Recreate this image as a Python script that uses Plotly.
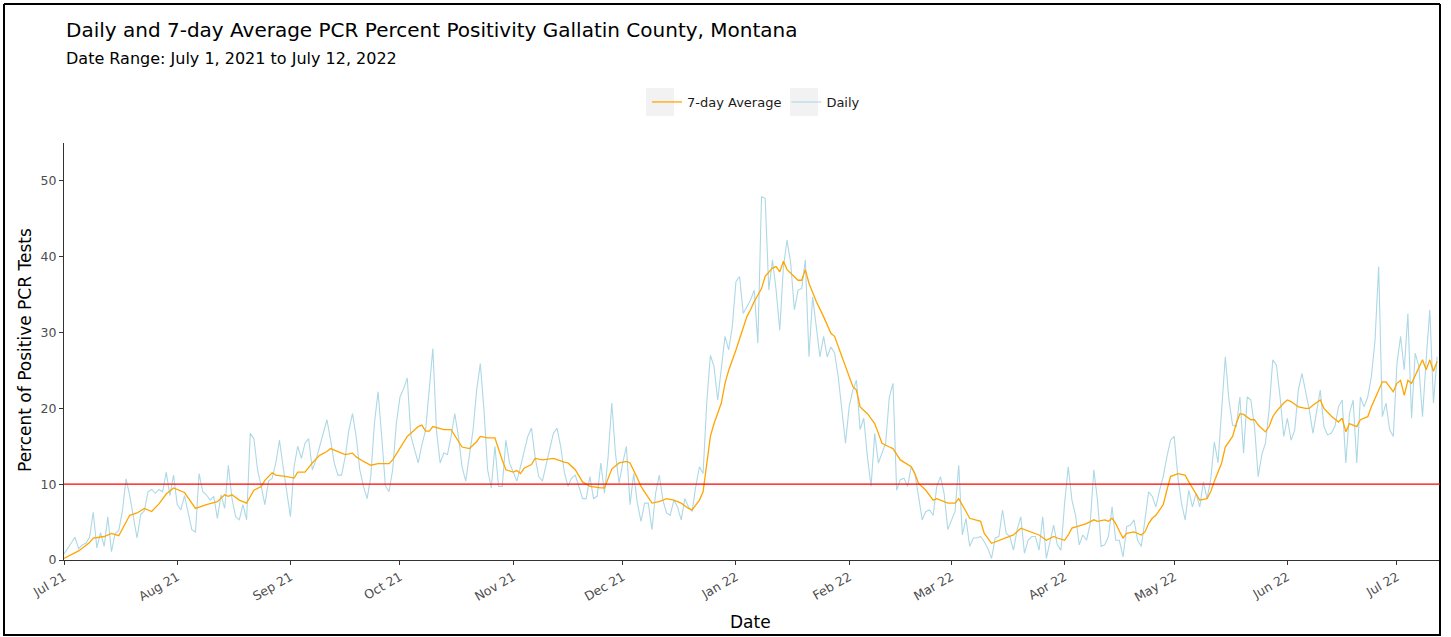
import pandas as pd
import plotly.graph_objects as go

start_date = "2021-07-01"

daily_pct = [
    0.8, 1.5, 2.3, 3.0, 1.5, 2.0, 2.2, 3.0, 6.3, 1.6,
    3.6, 1.8, 5.7, 1.1, 3.5, 3.9, 6.5, 10.7, 8.5, 5.5,
    2.9, 6.0, 6.5, 9.0, 9.3, 8.8, 9.3, 9.0, 11.6, 8.5,
    11.2, 7.3, 6.6, 8.5, 6.2, 4.0, 3.7, 11.4, 9.0, 8.6,
    7.9, 8.4, 5.5, 8.6, 6.8, 12.5, 8.1, 5.7, 5.3, 7.3,
    5.3, 16.7, 16.0, 11.9, 9.7, 7.3, 10.4, 10.8, 12.8, 15.8,
    12.3, 9.2, 5.7, 12.3, 15.0, 13.4, 15.4, 16.0, 11.9, 13.2,
    15.0, 16.7, 18.5, 15.8, 12.8, 11.2, 11.2, 13.6, 17.1, 19.3,
    16.3, 11.9, 9.7, 8.1, 11.0, 18.0, 22.2, 16.3, 9.8, 9.0,
    11.9, 18.0, 21.5, 22.6, 24.0, 16.3, 14.5, 12.8, 15.2, 17.1,
    22.4, 27.9, 17.1, 12.8, 14.1, 13.9, 16.3, 19.3, 16.3, 12.3,
    10.4, 14.1, 17.1, 22.4, 25.9, 19.8, 11.9, 9.5, 15.0, 9.7,
    9.7, 15.8, 12.8, 11.6, 10.4, 12.3, 14.5, 16.3, 17.4, 13.6,
    11.0, 10.4, 12.5, 14.5, 16.7, 17.4, 15.0, 11.6, 9.7, 10.8,
    11.2, 9.7, 8.1, 8.1, 11.0, 8.1, 8.4, 12.8, 8.8, 13.6,
    20.7, 14.1, 10.1, 12.8, 15.0, 7.3, 11.4, 7.5, 5.1, 7.5,
    7.5, 4.0, 8.8, 11.2, 7.9, 6.2, 5.9, 7.9, 7.0, 5.3,
    8.1, 7.0, 6.4, 9.7, 12.3, 11.4, 20.7, 27.0, 25.5, 21.1,
    25.1, 29.5, 27.7, 30.8, 36.7, 37.4, 32.5, 33.4, 34.3, 35.6,
    28.6, 47.9, 47.7, 35.6, 39.6, 35.6, 30.3, 38.7, 42.2, 39.1,
    33.0, 35.6, 35.8, 39.6, 26.8, 34.7, 30.8, 26.8, 29.5, 26.8,
    28.1, 27.3, 24.2, 19.8, 15.4, 20.2, 22.4, 23.7, 17.2, 18.7,
    13.6, 9.7, 16.7, 12.8, 14.1, 15.4, 21.5, 23.3, 9.2, 10.6,
    10.8, 9.7, 12.3, 11.4, 8.4, 5.3, 6.4, 6.6, 5.9, 9.7,
    11.0, 8.8, 4.0, 5.3, 6.4, 12.5, 3.3, 5.5, 1.8, 2.9,
    2.9, 3.1, 2.4, 1.5, 0.2, 2.9, 3.1, 6.6, 3.5, 3.1,
    1.3, 4.0, 5.7, 0.9, 2.6, 3.1, 3.1, 1.3, 5.7, 0.2,
    2.6, 4.6, 2.0, 1.3, 7.5, 12.3, 7.9, 5.9, 2.0, 3.3,
    2.6, 4.8, 11.9, 7.9, 1.8, 2.0, 3.1, 7.0, 2.6, 2.6,
    0.4, 4.4, 4.6, 5.3, 2.6, 1.8, 5.3, 9.0, 8.4, 7.0,
    9.2, 11.0, 13.6, 15.8, 16.3, 11.0, 7.5, 5.3, 9.2, 7.0,
    8.8, 7.0, 10.3, 8.1, 10.6, 15.6, 12.8, 20.2, 26.8, 21.1,
    17.8, 17.6, 21.5, 14.1, 21.5, 21.1, 17.6, 11.0, 13.9, 15.4,
    19.8, 26.4, 25.7, 21.5, 16.3, 18.7, 15.8, 17.1, 22.4, 24.6,
    22.4, 19.8, 16.7, 19.8, 22.4, 17.6, 16.5, 16.7, 17.6, 20.2,
    21.1, 12.8, 19.3, 21.1, 12.8, 21.5, 20.2, 21.5, 24.2, 29.0,
    38.7, 18.9, 20.7, 17.2, 16.3, 25.9, 29.5, 25.1, 32.5, 18.7,
    27.3, 25.5, 18.9, 26.4, 33.0, 20.7, 26.8,
]

avg_day = [
    0, 4, 7, 8, 11, 13, 15, 18, 20, 22, 24, 26, 28, 30, 33,
    36, 39, 42, 44, 45, 46, 48, 50, 52, 54, 55, 57, 58, 61, 63, 64, 66, 68,
    70, 72, 73, 75, 77, 79, 80, 82, 84, 86, 89, 90, 92, 94, 97, 98, 99, 100, 101, 103,
    104, 106, 108, 109, 111, 113, 114, 116, 118, 119, 120, 121, 123, 124, 125, 126, 128, 129, 131, 134, 135, 137,
    138, 140, 142, 144, 147, 148, 150, 152, 154, 155, 157, 158, 161, 163, 165, 167, 169, 171,
    172, 174, 175, 176, 177, 178, 180, 181, 182, 184, 185, 187, 188, 189, 191, 192, 194, 195, 196, 197, 198, 200, 201, 202, 203, 204, 205, 206,
    208, 210, 211, 213, 215, 216, 217, 218, 220, 222, 223, 224, 226, 227, 229, 230, 232, 233, 234, 236, 238, 239, 241,
    242, 244, 245, 247, 248, 251, 252, 254, 256, 258, 260, 262, 263, 266, 267, 269, 271, 272, 274, 275,
    276, 278, 280, 282, 283, 285, 286, 287, 288, 289, 290, 291, 293, 295, 296, 297, 298, 299, 301, 302, 303, 305, 307, 308, 309,
    310, 311, 313, 314, 315, 317, 318, 320, 321, 322, 323, 325, 326, 327, 329, 330, 331, 332, 334, 335, 336, 338, 340, 341, 342, 344,
    345, 347, 349, 350, 351, 352, 354, 355, 357, 358, 360, 361, 362, 364, 365, 366, 367, 368, 369, 371, 372, 373, 374, 375, 376,
]

avg_pct = [
    0.2, 1.2, 2.3, 2.9, 3.1, 3.5, 3.2, 5.9, 6.2, 6.8, 6.4, 7.4, 8.7, 9.5, 8.9,
    6.8, 7.3, 7.7, 8.6, 8.4, 8.6, 7.9, 7.5, 9.2, 9.7, 10.5, 11.5, 11.2, 11.0, 10.8, 11.6, 11.6, 12.8,
    13.8, 14.3, 14.7, 14.3, 13.9, 14.1, 13.6, 13.0, 12.5, 12.7, 12.7, 13.2, 14.7, 16.3, 17.6, 17.8, 17.0, 17.0, 17.6, 17.4,
    17.2, 17.2, 15.6, 14.9, 14.7, 15.6, 16.3, 16.1, 16.1, 14.5, 13.2, 11.9, 11.6, 11.8, 11.4, 12.1, 12.6, 13.4, 13.2, 13.4, 13.2, 12.9,
    12.8, 11.9, 10.3, 9.7, 9.5, 9.5, 12.0, 12.8, 13.0, 12.8, 10.8, 9.7, 7.5, 7.7, 8.1, 7.9, 7.5, 6.8,
    6.6, 7.9, 9.0, 12.8, 16.3, 18.0, 20.7, 23.3, 25.0, 27.7, 29.2, 32.1, 33.0, 34.1, 35.8, 37.4, 38.5, 38.7, 38.0, 39.4, 38.3, 37.4, 36.9, 36.9, 38.3, 36.5, 35.2, 34.1,
    32.1, 29.9, 29.5, 26.8, 24.2, 22.9, 22.4, 20.2, 19.3, 18.0, 16.7, 15.4, 14.9, 14.7, 13.2, 12.9, 12.3, 11.4, 10.1, 9.2, 7.9, 8.1, 7.7,
    7.5, 7.5, 8.1, 6.4, 5.5, 5.1, 3.5, 2.2, 2.6, 2.9, 3.3, 4.2, 4.0, 3.5, 3.3, 2.6, 3.1, 2.9, 2.6, 3.3,
    4.2, 4.5, 4.8, 5.3, 5.1, 5.3, 5.1, 5.5, 4.8, 3.8, 2.9, 3.5, 3.7, 3.3, 3.7, 4.8, 5.5, 5.9, 7.3, 9.2, 11.0, 11.4, 11.2, 10.3, 9.5,
    8.8, 7.9, 8.1, 9.0, 10.4, 12.8, 14.9, 16.3, 18.0, 19.3, 19.2, 18.5, 18.5, 17.8, 16.9, 17.6, 18.9, 19.6, 20.7, 21.1, 20.9, 20.2, 20.0, 20.0, 20.4, 21.1,
    20.0, 19.0, 18.2, 18.7, 16.9, 18.0, 17.6, 18.5, 18.9, 20.2, 22.4, 23.5, 23.5, 22.2, 23.3, 23.7, 21.7, 23.7, 23.3, 25.5, 26.4, 25.1, 26.4, 24.9, 26.2,
]

threshold = 10
y_ticks = [0, 10, 20, 30, 40, 50]
x_tick_dates = pd.date_range("2021-07-01", "2022-07-01", freq="MS")

start = pd.Timestamp(start_date)
daily_dates = pd.date_range(start, periods=len(daily_pct), freq="D")
avg_dates = start + pd.to_timedelta(avg_day, unit="D")

font_family = "DejaVu Sans, Liberation Sans, sans-serif"

fig = go.Figure()
fig.add_trace(go.Scatter(
    x=daily_dates, y=daily_pct, mode="lines", name="Daily",
    line=dict(color="#ADD8E6", width=1.1),
))
fig.add_trace(go.Scatter(
    x=avg_dates, y=avg_pct, mode="lines", name="7-day Average",
    line=dict(color="#FFA500", width=1.3),
))

# plot area: x 64..1440 px, y 143..560 px (width 1376, height 417)
PW, PH = 1376.0, 417.0
def px(x):
    return (x - 64) / PW
def py(y):
    return (560 - y) / PH

fig.update_layout(
    width=1451, height=637,
    margin=dict(l=64, r=11, t=143, b=77),
    paper_bgcolor="white", plot_bgcolor="white",
    font=dict(family=font_family, color="#4d4d4d", size=12),
    showlegend=True,
    legend=dict(
        orientation="h", x=px(756), xanchor="center", y=py(102), yanchor="middle",
        font=dict(size=13, color="#1a1a1a", family=font_family),
        traceorder="reversed", itemwidth=30, bgcolor="rgba(0,0,0,0)",
    ),
    xaxis=dict(
        range=["2021-07-01", "2022-07-12 19:00"],
        tickvals=x_tick_dates, tickformat="%b %y", tickangle=-30,
        showgrid=False, zeroline=False,
        showline=True, linecolor="#333333", linewidth=1,
        ticks="outside", ticklen=4, tickcolor="#333333",
        tickfont=dict(size=12.5, color="#4d4d4d"),
    ),
    yaxis=dict(
        range=[0, 55], tickvals=y_ticks,
        showgrid=False, zeroline=False,
        showline=True, linecolor="#333333", linewidth=1,
        ticks="outside", ticklen=4, tickcolor="#333333",
        tickfont=dict(size=12.5, color="#4d4d4d"),
    ),
    annotations=[
        dict(text="Daily and 7-day Average PCR Percent Positivity Gallatin County, Montana",
             xref="paper", yref="paper", x=0, y=py(30), xanchor="left", yanchor="middle",
             showarrow=False, font=dict(size=20, color="black", family=font_family)),
        dict(text="Date Range: July 1, 2021 to July 12, 2022",
             xref="paper", yref="paper", x=0, y=py(59), xanchor="left", yanchor="middle",
             showarrow=False, font=dict(size=16, color="black", family=font_family)),
        dict(text="Date", xref="paper", yref="paper", x=px(750), y=py(622),
             xanchor="center", yanchor="middle", showarrow=False,
             font=dict(size=17, color="black", family=font_family)),
        dict(text="Percent of Positive PCR Tests", xref="paper", yref="paper",
             x=px(25), y=py(350), xanchor="center", yanchor="middle", textangle=-90,
             showarrow=False, font=dict(size=17, color="black", family=font_family)),
    ],
)

# legend key backgrounds
fig.add_shape(type="rect", xref="paper", yref="paper",
              x0=px(646), x1=px(674), y0=py(116), y1=py(88),
              line=dict(width=0), fillcolor="#F2F2F2", layer="below")
fig.add_shape(type="rect", xref="paper", yref="paper",
              x0=px(790), x1=px(818), y0=py(116), y1=py(88),
              line=dict(width=0), fillcolor="#F2F2F2", layer="below")
# outer frame
for (x0, y0, x1, y1) in [(4, 4, 1440, 4), (4, 4, 4, 636), (1440, 4, 1440, 636), (4, 635, 1440, 635)]:
    fig.add_shape(type="line", xref="paper", yref="paper",
                  x0=px(x0), x1=px(x1), y0=py(y0), y1=py(y1),
                  line=dict(color="black", width=2), layer="above")
# threshold line
fig.add_hline(y=threshold, line=dict(color="red", width=1.2))

fig.write_html("out.html", config={"displayModeBar": False},
               post_script="document.body.style.margin='0px';")
